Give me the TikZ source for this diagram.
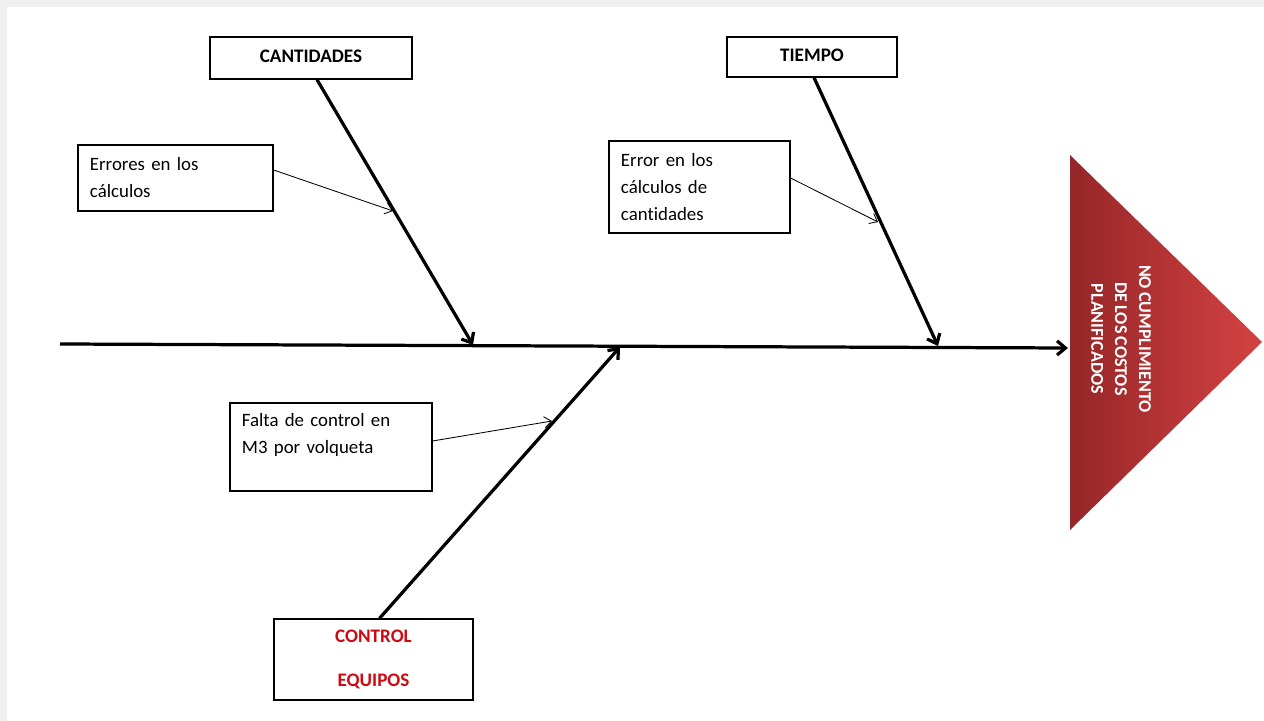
\documentclass[tikz,border=0pt]{standalone}
\usepackage{fontspec}
\setmainfont{Carlito}[Ligatures=NoCommon, WordSpace=0.75]
\usetikzlibrary{arrows.meta}
\definecolor{rojoA}{RGB}{150,38,40}
\definecolor{rojoB}{RGB}{212,66,66}
\definecolor{rojoT}{RGB}{204,10,20}
\begin{document}
\begin{tikzpicture}[x=0.025cm,y=-0.025cm,
    caja/.style={draw, line width=0.9pt, inner sep=0pt,
      font=\fontsize{13.6}{19.2}\selectfont\bfseries},
    causa/.style={draw, line width=0.8pt, inner xsep=0.3cm, inner ysep=0pt,
      align=left, font=\fontsize{13.4}{19.2}\selectfont},
    espina/.style={line width=2.3pt, -{Straight Barb[length=6pt,width=10pt]}},
    flecha/.style={line width=0.6pt, -{Straight Barb[length=5pt,width=8pt]}}]
  \useasboundingbox (0,0) rectangle (1264,721);
  % fondo
  \fill[black!6] (0,0) rectangle (1264,721);
  \fill[white] (7,7) rectangle (1264,721);
  % efecto
  \shade[left color=rojoA, right color=rojoB]
    (1070,155) -- (1262,342) -- (1070,530) -- cycle;
  \node[rotate=-90, align=center, text=white,
    font=\fontsize{12.8}{17}\selectfont\bfseries] (efecto) at (1121,339)
    {NO CUMPLIMIENTO\\DE LOS COSTOS\\PLANIFICADOS};
  % categorias
  \node[caja, minimum width=5.05cm, minimum height=1.05cm] (cant) at (311,58)
    {\raisebox{2pt}{CANTIDADES}};
  \node[caja, minimum width=4.25cm, minimum height=1.0cm] (tiempo) at (812,57)
    {\raisebox{2pt}{TIEMPO}};
  \node[caja, minimum width=4.975cm, minimum height=2.025cm, align=center,
    text=rojoT] (control) at (373.5,659.5) {CONTROL\\[12pt]EQUIPOS};
  % causas
  \node[causa, text width=4.275cm, minimum height=1.65cm] (err) at (175.5,178)
    {Errores en los\\cálculos};
  \node[causa, text width=3.925cm, minimum height=2.3cm] (errcant) at (699.5,187)
    {Error en los\\cálculos de\\cantidades};
  \node[causa, text width=4.45cm, minimum height=2.2cm] (falta) at (331,447)
    {Falta de control en\\M3 por volqueta\\\mbox{}};
  % puntos en las espinas
  \coordinate (cola) at (60,344);
  \coordinate (cabeza) at (1068,348);
  \coordinate (p1) at (473,345);
  \coordinate (p2) at (938,346);
  \coordinate (p3) at (620,347);
  \coordinate (e1) at (393,211);
  \coordinate (e2) at (878,222);
  \coordinate (e3) at (552,421);
  \begin{scope}[espina]
    \draw (cola) to (cabeza);
    \draw ([xshift=0.15cm]cant.south) to (p1);
    \draw ([xshift=0.05cm]tiempo.south) to (p2);
    \draw ([xshift=0.15cm]control.north) to (p3);
  \end{scope}
  \begin{scope}[flecha]
    \draw ([yshift=0.2cm]err.east) to (e1);
    \draw ([yshift=0.225cm]errcant.east) to (e2);
    \draw ([yshift=0.15cm]falta.east) to (e3);
  \end{scope}
\end{tikzpicture}
\end{document}
